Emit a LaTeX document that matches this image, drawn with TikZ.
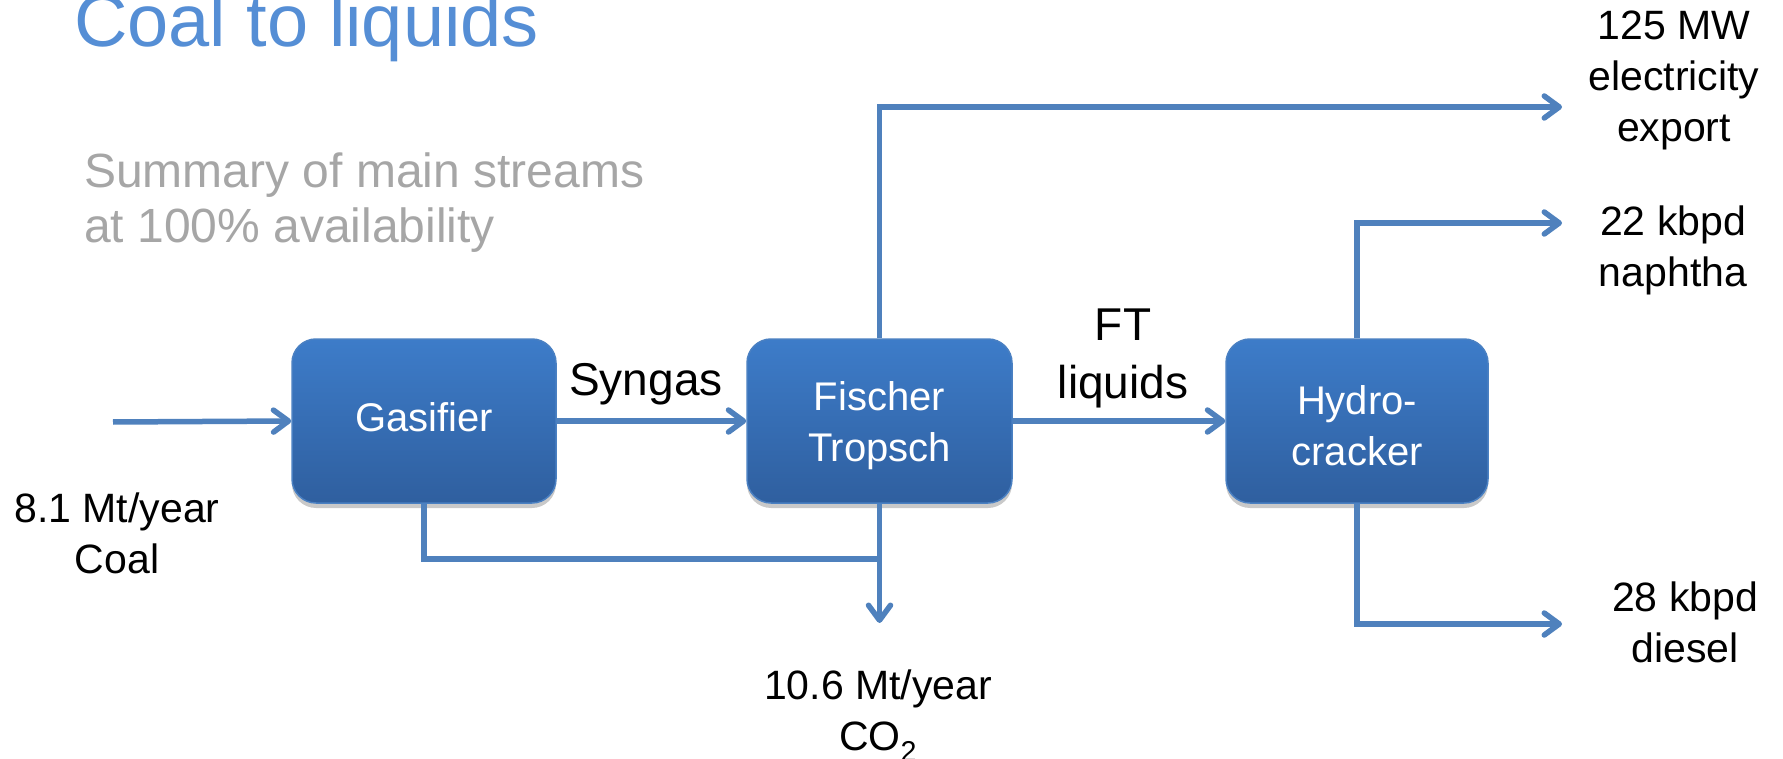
\documentclass[tikz,border=0pt]{standalone}
\usepackage{fontspec}
\setmainfont{Liberation Sans}
\usetikzlibrary{arrows.meta,shadows}
\definecolor{titleblue}{HTML}{558ED5}
\definecolor{subgray}{HTML}{A6A6A6}
\definecolor{flow}{HTML}{4F81BD}
\definecolor{boxtop}{HTML}{3D7CC9}
\definecolor{boxbot}{HTML}{2F5F9F}
\definecolor{boxedge}{HTML}{4A80C2}
\tikzset{
  unitbox/.style={rounded corners=24pt, minimum width=264pt, minimum height=164pt,
    top color=boxtop, bottom color=boxbot, draw=boxedge, line width=1.5pt,
    text=white, font=\fontsize{40}{51}\selectfont, align=center, inner sep=0pt,
    drop shadow={shadow xshift=0pt, shadow yshift=-5pt, opacity=0.3, fill=black!70}},
  flowline/.style={draw=flow, line width=5.5pt},
  flowarrow/.style={flowline, -{Straight Barb[length=15pt,width=22pt,round]}},
  lbl/.style={font=\fontsize{41}{51}\selectfont, align=center, inner sep=0pt, anchor=base},
}
\begin{document}
\begin{tikzpicture}[x=1pt,y=-1pt]
\useasboundingbox (0,0) rectangle (1783,759);

% title and subtitle
\node[anchor=base west, inner sep=0pt, font=\fontsize{74}{80}\selectfont, text=titleblue] (title) at (74,47) {Coal to liquids};
\node[anchor=base west, inner sep=0pt, align=left, font=\fontsize{48}{55}\selectfont, text=subgray] (sub) at (84,243) {Summary of main streams\\at 100\% availability};

% process units
\node[unitbox] (gas) at (424,421) {Gasifier\rule[-7pt]{0pt}{7pt}};
\node[unitbox, minimum width=265pt] (ft) at (879.5,421) {\rule{0pt}{39pt}Fischer\\Tropsch};
\node[unitbox, minimum width=262pt] (hc) at (1357,421) {\rule{0pt}{39pt}Hydro-\\cracker};

% free ends
\coordinate (coalstart) at (113,422);
\coordinate (elecend) at (1562,107);
\coordinate (naphend) at (1562,223);
\coordinate (dieselend) at (1562,624);
\coordinate (join) at (879.5,559);
\coordinate (co2end) at (879.5,623);

% connectors
\draw[flowarrow] (coalstart) -- (gas.west);
\draw[flowarrow] (gas.east) -- (ft.west);
\draw[flowarrow] (ft.east) -- (hc.west);
\draw[flowarrow] (ft.north) |- (elecend);
\draw[flowarrow] (hc.north) |- (naphend);
\draw[flowarrow] (hc.south) |- (dieselend);
\draw[flowline] (gas.south) |- (join);
\draw[flowarrow] (ft.south) -- (co2end);

% labels (anchor base = baseline of the last line)
\node[lbl] (coal) at (117,573) {8.1 Mt/year\\Coal};
\node[lbl, font=\fontsize{46}{58}\selectfont] (syn) at (646,395) {Syngas};
\node[lbl, font=\fontsize{46}{58}\selectfont] (ftl) at (1123,398) {FT\\liquids};
\node[lbl] (co2) at (878,750) {10.6 Mt/year\\CO\textsubscript{2}};
\node[lbl] (elec) at (1674,142) {125 MW\\electricity\\export};
\node[lbl] (naph) at (1673,287) {22 kbpd\\naphtha};
\node[lbl] (diesel) at (1685,662) {28 kbpd\\diesel};
\end{tikzpicture}
\end{document}
